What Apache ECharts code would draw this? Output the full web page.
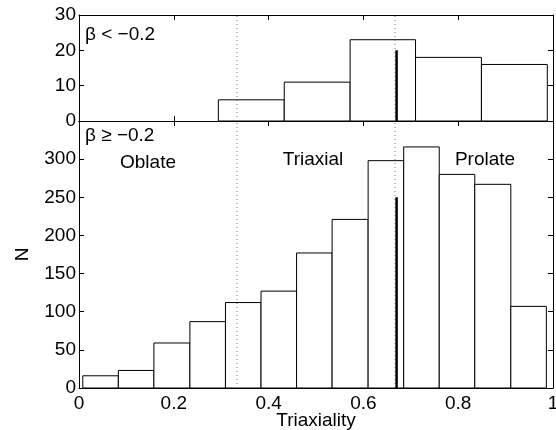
<!DOCTYPE html>
<html><head><meta charset="utf-8">
<script src="https://cdn.jsdelivr.net/npm/echarts@6/dist/echarts.min.js"></script>
<style>html,body{margin:0;padding:0;background:#fff}#c{width:556px;height:430px}</style>
</head><body><div id="c"></div>
<script>
// Upper panel (beta < -0.2)
var topEdges = [0.294, 0.433, 0.572, 0.710, 0.849, 0.988];
var topCounts = [6, 11, 23, 18, 16];
// Lower panel (beta >= -0.2)
var bottomEdges = [0.008, 0.083, 0.158, 0.234, 0.309, 0.384, 0.459, 0.534, 0.610, 0.685, 0.760, 0.835, 0.911, 0.986];
var bottomCounts = [16, 23, 59, 87, 112, 127, 177, 221, 298, 316, 280, 267, 107];
var xTicks = [0, 0.2, 0.4, 0.6, 0.8, 1];
var boundaries = [1/3, 2/3];
var medianX = 0.67;
var medianTop = 20;
var medianBottom = 250;

var FONT = 'Liberation Sans';
var FS = 19;

function binData(edges, counts) {
  var d = [];
  for (var i = 0; i < counts.length; i++) d.push([edges[i], edges[i+1], counts[i]]);
  return d;
}
function renderBin(params, api) {
  var p0 = api.coord([api.value(0), api.value(2)]);
  var p1 = api.coord([api.value(1), 0]);
  return {type: 'rect', shape: {x: p0[0], y: p0[1], width: p1[0] - p0[0], height: p1[1] - p0[1]},
    style: {fill: '#fff', stroke: '#000', lineWidth: 1}};
}
function xAx(gi, pos, labels) {
  return {type: 'value', gridIndex: gi, position: pos, min: 0, max: 1, interval: 0.2,
    axisLine: {show: true, onZero: false, lineStyle: {color: '#000', width: 1}},
    axisTick: {show: true, inside: true, length: 5, lineStyle: {color: '#000'}},
    axisLabel: {show: labels, color: '#000', fontFamily: FONT, fontSize: FS, margin: 6,
      formatter: function (v) { return String(+v.toFixed(1)); }},
    splitLine: {show: false},
    name: labels ? 'Triaxiality' : '', nameLocation: 'middle', nameGap: 23, nameMoveOverlap: false,
    nameTextStyle: {color: '#000', fontFamily: FONT, fontSize: FS}};
}
function yAx(gi, pos, max, interval, labels, hideMax, name) {
  return {type: 'value', gridIndex: gi, position: pos, min: 0, max: max, interval: interval,
    axisLine: {show: true, onZero: false, lineStyle: {color: '#000', width: 1}},
    axisTick: {show: true, inside: true, length: 5, lineStyle: {color: '#000'}},
    axisLabel: {show: labels, color: '#000', fontFamily: FONT, fontSize: FS, margin: 3,
      formatter: function (v) { return (hideMax && v === max) ? '' : String(v); }},
    splitLine: {show: false},
    name: name || '', nameLocation: 'middle', nameGap: 47, nameMoveOverlap: false,
    nameTextStyle: {color: '#000', fontFamily: FONT, fontSize: FS}};
}
function vline(x, y0, y1, xi, yi, style) {
  return {type: 'line', xAxisIndex: xi, yAxisIndex: yi, data: [[x, y0], [x, y1]],
    symbol: 'none', silent: true, lineStyle: style, z: 5, animation: false};
}
var dotted = {color: '#777', width: 1, type: [1, 3]};
var thick = {color: '#000', width: 2.5, type: 'solid'};

var series = [
  {type: 'custom', xAxisIndex: 0, yAxisIndex: 0, renderItem: renderBin, data: binData(topEdges, topCounts),
   encode: {x: [0, 1], y: 2}, animation: false},
  {type: 'custom', xAxisIndex: 2, yAxisIndex: 2, renderItem: renderBin, data: binData(bottomEdges, bottomCounts),
   encode: {x: [0, 1], y: 2}, animation: false}
];
boundaries.forEach(function (b) {
  series.push(vline(b, 0, 30, 0, 0, dotted));
  series.push(vline(b, 0, 350, 2, 2, dotted));
});
series.push(vline(medianX, 0, medianTop, 0, 0, thick));
series.push(vline(medianX, 0, medianBottom, 2, 2, thick));

var chart = echarts.init(document.getElementById('c'), null, {renderer: 'canvas'});
chart.setOption({
  backgroundColor: '#fff',
  animation: false,
  grid: [
    {left: 79, right: 3, top: 15, height: 106, containLabel: false, outerBoundsMode: 'none'},
    {left: 79, right: 3, top: 121, bottom: 42, containLabel: false, outerBoundsMode: 'none'}
  ],
  xAxis: [xAx(0, 'bottom', false), xAx(0, 'top', false), xAx(1, 'bottom', true), xAx(1, 'top', false)],
  yAxis: [yAx(0, 'left', 30, 10, true, false), yAx(0, 'right', 30, 10, false, false),
          yAx(1, 'left', 350, 50, true, true, 'N'), yAx(1, 'right', 350, 50, false, true)],
  series: series,
  graphic: [
    {type: 'text', left: 85, top: 25, style: {text: 'β < −0.2', font: FS + 'px ' + FONT, fill: '#000'}},
    {type: 'text', left: 85, top: 126, style: {text: 'β ≥ −0.2', font: FS + 'px ' + FONT, fill: '#000'}},
    {type: 'text', x: 148, y: 163, style: {text: 'Oblate', font: FS + 'px ' + FONT, fill: '#000', align: 'center', verticalAlign: 'middle'}},
    {type: 'text', x: 313, y: 160, style: {text: 'Triaxial', font: FS + 'px ' + FONT, fill: '#000', align: 'center', verticalAlign: 'middle'}},
    {type: 'text', x: 485, y: 160, style: {text: 'Prolate', font: FS + 'px ' + FONT, fill: '#000', align: 'center', verticalAlign: 'middle'}}
  ]
});
</script></body></html>
